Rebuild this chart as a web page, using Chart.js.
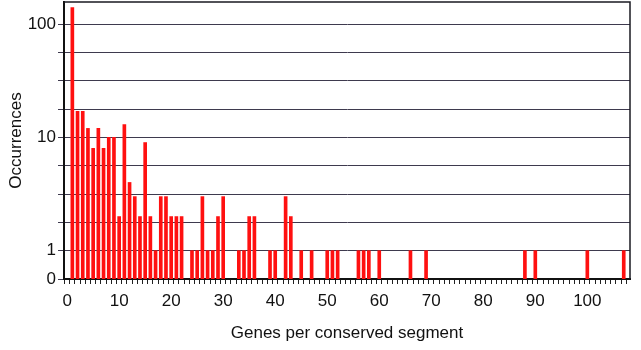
<!DOCTYPE html>
<html>
<head>
<meta charset="utf-8">
<script src="https://cdn.jsdelivr.net/npm/chart.js@4/dist/chart.umd.min.js"></script>
<style>
  html, body { margin: 0; padding: 0; background: #fff; }
  #wrap { width: 641px; height: 350px; }
</style>
</head>
<body>
<div id="wrap"><canvas id="chart-segments"></canvas></div>
<script>
// Genes per conserved segment (x) and how often each size occurs (y)
let segmentSizes = [1, 2, 3, 4, 5, 6, 7, 8, 9, 10, 11, 12, 13, 14, 15, 16, 17, 18, 19, 20, 21, 22,
    24, 25, 26, 27, 28, 29, 30, 33, 34, 35, 36, 39, 40, 42, 43, 45, 47,
    50, 51, 52, 56, 57, 58, 60, 66, 69, 88, 90, 100, 107];
let occurrences = [140, 17, 17, 12, 8, 12, 8, 10, 10, 2, 13, 4, 3, 2, 9, 2, 1, 3, 3, 2, 2, 2,
    1, 1, 3, 1, 1, 2, 3, 1, 1, 2, 2, 1, 1, 3, 2, 1, 1,
    1, 1, 1, 1, 1, 1, 1, 1, 1, 1, 1, 1, 1];

// y grid every quarter decade, labelled at 0 (axis floor), 1, 10, 100
let yTickValues = [0.5623, 1, 1.778, 3.162, 5.623, 10, 17.78, 31.62, 56.23, 100];
let yTickLabels = ['0', '1', '', '', '', '10', '', '', '', '100'];
let xLabelStep = 10;

let barData = segmentSizes.map((s, i) => ({ x: s, y: occurrences[i] }));

// top and right edges of the plot frame
const framePlugin = {
    id: 'frame',
    afterDraw(chart) {
        const a = chart.chartArea, ctx = chart.ctx;
        ctx.save();
        ctx.strokeStyle = '#1a1a22';
        ctx.lineWidth = 1.5;
        ctx.beginPath();
        ctx.moveTo(a.left, a.top);
        ctx.lineTo(a.right, a.top);
        ctx.lineTo(a.right, a.bottom);
        ctx.stroke();
        ctx.restore();
    }
};

var ctxSeg = document.getElementById('chart-segments').getContext('2d');

let chartSeg = new Chart(ctxSeg, {
    type: 'bar',
    data: {
        datasets: [{
            data: barData,
            backgroundColor: '#ff1010',
            barThickness: 3
        }]
    },
    options: {
        responsive: true,
        maintainAspectRatio: false,
        animation: false,
        layout: { padding: { top: 2, right: 11, left: 0, bottom: 0 } },
        plugins: { legend: { display: false }, tooltip: { enabled: false } },
        scales: {
            x: {
                type: 'linear',
                min: -0.1,
                max: 107.7,
                afterFit(scale) {
                    scale.height = 71;
                    scale.paddingLeft = 0;
                    scale.paddingRight = 0;
                },
                afterBuildTicks(scale) {
                    let t = [];
                    for (let v = 0; v <= 107; v++) t.push({ value: v });
                    scale.ticks = t;
                },
                ticks: {
                    autoSkip: false,
                    maxRotation: 0,
                    padding: 7,
                    color: '#111',
                    font: { family: 'Liberation Sans', size: 17 },
                    callback: (v) => (v % xLabelStep === 0 ? String(v) : '')
                },
                grid: { drawOnChartArea: false, drawTicks: true, tickLength: 5, color: '#222', lineWidth: 1 },
                border: { color: '#111', width: 2 },
                title: {
                    display: true,
                    text: 'Genes per conserved segment',
                    color: '#111',
                    font: { family: 'Liberation Sans', size: 17 },
                    padding: { top: 2, bottom: 6 }
                }
            },
            y: {
                type: 'logarithmic',
                min: 0.5623,
                max: 156.6,
                afterFit(scale) {
                    scale.width = 64;
                    scale.paddingTop = 0;
                    scale.paddingBottom = 0;
                },
                afterBuildTicks(scale) {
                    scale.ticks = yTickValues.map(v => ({ value: v }));
                },
                ticks: {
                    autoSkip: false,
                    padding: 2,
                    color: '#111',
                    font: { family: 'Liberation Sans', size: 17 },
                    callback: (v, i) => yTickLabels[i]
                },
                grid: { color: '#3e3a4e', lineWidth: 1, tickLength: 6, drawTicks: true },
                border: { color: '#111', width: 2 },
                title: {
                    display: true,
                    text: 'Occurrences',
                    color: '#111',
                    font: { family: 'Liberation Sans', size: 17 },
                    padding: { top: 6, bottom: 0 }
                }
            }
        }
    },
    plugins: [framePlugin]
});
</script>
</body>
</html>
